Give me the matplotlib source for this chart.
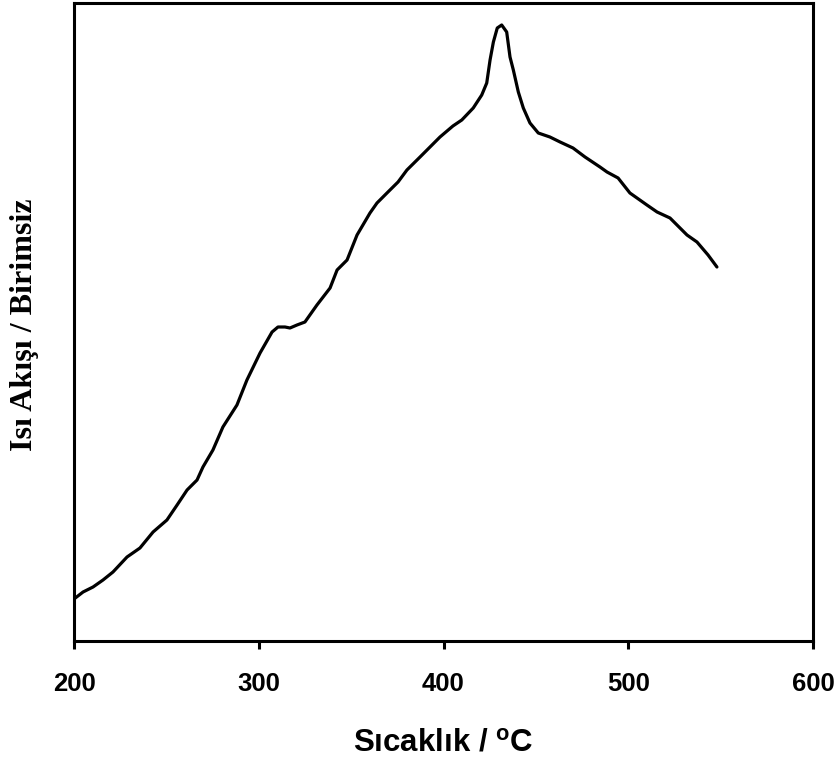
import matplotlib
matplotlib.use("Agg")
import matplotlib.pyplot as plt

# Temperature (°C) and heat flow (arbitrary units)
temperature = [200.0, 204.9, 210.3, 215.7, 221.1, 228.7, 235.7, 242.8, 250.3, 255.8,
               261.2, 266.6, 269.8, 275.2, 280.6, 288.2, 293.6, 300.7, 307.2, 310.4,
               314.2, 316.9, 320.7, 325.0, 331.5, 338.6, 342.4, 347.8, 353.2, 360.2,
               364.0, 369.4, 375.4, 380.2, 387.3, 392.7, 398.1, 405.1, 409.9, 416.1,
               420.7, 423.4, 425.2, 427.0, 429.1, 431.5, 434.2, 436.0, 437.8, 440.5,
               443.2, 446.8, 451.3, 457.6, 463.1, 470.1, 476.6,
               484.7, 488.5, 494.5, 500.9, 510.1, 515.6, 522.6, 531.8, 537.2, 543.2,
               548.0]
heat_flow = [42, 49, 54, 61, 69, 84, 93, 109, 121, 136,
             151, 161, 174, 191, 214, 236, 261, 288, 309, 314,
             314, 313, 316, 319, 336, 353, 371, 381, 406, 428,
             438, 448, 459, 471, 484, 494, 504, 515, 521, 533,
             546, 558, 581, 599, 613, 616, 609, 584, 571, 549,
             533, 518, 508, 504, 499, 493, 484,
             474, 469, 463, 448, 436, 429, 423, 406, 399, 386,
             374]

x_ticks = [200, 300, 400, 500, 600]
x_label = "Sıcaklık / $^{\\mathbf{o}}$C"
y_label = "Isı Akışı / Birimsiz"

plt.rcParams["mathtext.fontset"] = "custom"
plt.rcParams["mathtext.bf"] = "Liberation Sans:bold"
plt.rcParams["mathtext.rm"] = "Liberation Sans"

fig = plt.figure(figsize=(8.4, 7.6), dpi=100)
ax = fig.add_axes([74 / 840, 1 - 641 / 760, (813 - 74) / 840, (641 - 2.5) / 760])

ax.plot(temperature, heat_flow, color="black", linewidth=2.3, solid_joinstyle="round",
        solid_capstyle="round")

ax.set_xlim(200, 600)
ax.set_ylim(0, 638.5)
ax.set_xticks(x_ticks)
ax.set_xticklabels([str(t) for t in x_ticks], fontfamily="Liberation Sans",
                   fontweight="bold", fontsize=18.5)
ax.set_yticks([])
ax.tick_params(axis="x", direction="out", length=6, width=2.2, pad=16)

for s in ax.spines.values():
    s.set_linewidth(2.2)
    s.set_color("black")

ax.set_xlabel(x_label, fontfamily="Liberation Sans", fontweight="bold", fontsize=22.5,
              labelpad=24)
ax.set_ylabel(y_label, fontfamily="Liberation Serif", fontweight="bold", fontsize=23)
ax.yaxis.set_label_coords(-0.048, 0.495)

fig.savefig("out.png", dpi=100)
